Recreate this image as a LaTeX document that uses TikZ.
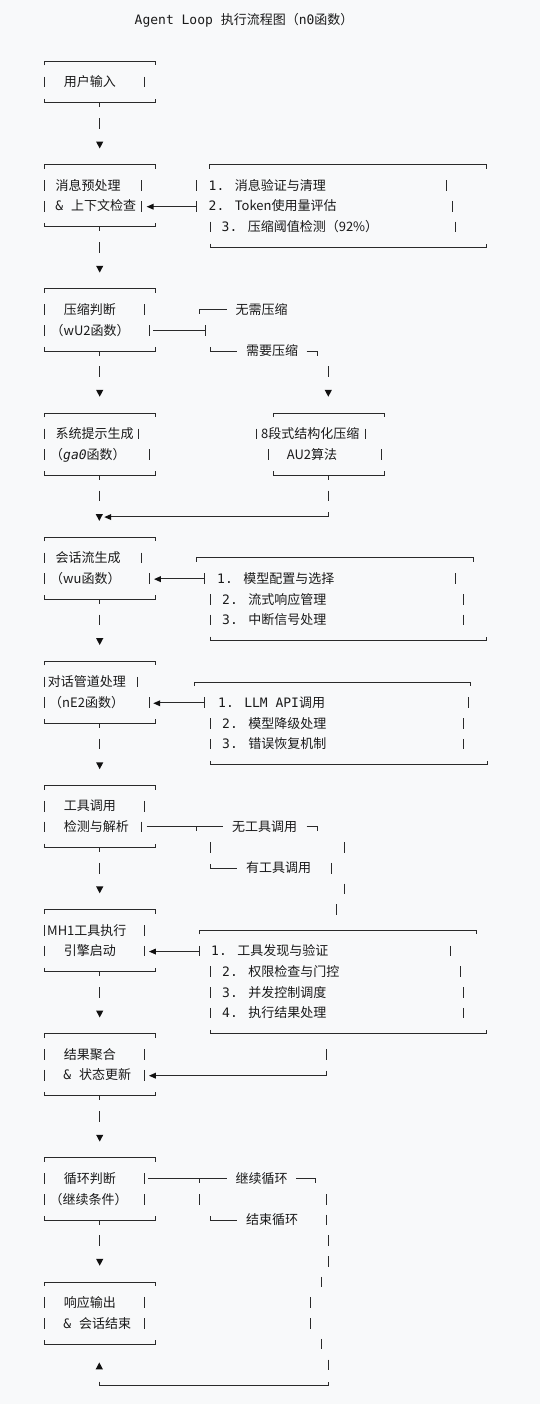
\documentclass[tikz,border=0pt]{standalone}
\usepackage{fontspec}
\newfontfamily\cjk{Noto Sans CJK SC}
\newfontfamily\mono{DejaVu Sans Mono}
\definecolor{bg}{HTML}{F8F9FA}
\definecolor{lc}{HTML}{2A2A2A}
\definecolor{tc}{HTML}{1A1A1A}
\definecolor{ac}{HTML}{111111}
\newcommand\fs{\fontsize{13}{15}\selectfont}
\newcommand\mn[1]{{\mono #1}}
\tikzset{
  ln/.style={draw=lc, line width=0.95pt},
  tx/.style={anchor=base west, inner sep=0pt, text=tc, font=\fs\cjk},
}
% helpers (row-based, y grows downward)
\newcommand\vbar[2]{\draw[ln] (#1,{rowy(#2)-5.3}) -- (#1,{rowy(#2)+5.3});}
\newcommand\btop[3]{\draw[ln] (#1,{rowy(#3)+4}) -- (#1,{rowy(#3)}) -- (#2,{rowy(#3)}) -- (#2,{rowy(#3)+4});}
\newcommand\bbot[3]{\draw[ln] (#1,{rowy(#3)-4}) -- (#1,{rowy(#3)}) -- (#2,{rowy(#3)}) -- (#2,{rowy(#3)-4});}
\newcommand\tdown[2]{\draw[ln] (#1,{rowy(#2)}) -- (#1,{rowy(#2)+4.5});}
\newcommand\hl[3]{\draw[ln] (#1,{rowy(#3)}) -- (#2,{rowy(#3)});}
\newcommand\dtri[2]{\fill[ac] ({#1-3.6},{rowy(#2)-2.5}) -- ({#1+3.6},{rowy(#2)-2.5}) -- (#1,{rowy(#2)+4.3}) -- cycle;}
\newcommand\utri[2]{\fill[ac] ({#1-3.6},{rowy(#2)+4.4}) -- ({#1+3.6},{rowy(#2)+4.4}) -- (#1,{rowy(#2)-2.4}) -- cycle;}
\newcommand\ltri[2]{\fill[ac] (#1,{rowy(#2)+0.5}) -- ({#1+6.8},{rowy(#2)-2.5}) -- ({#1+6.8},{rowy(#2)+3.5}) -- cycle;}
\newcommand\txt[4]{\node[tx] (#1) at (#2,{rowy(#3)+4.7}) {#4};}
\newcommand\lbox[3]{\btop{44.3}{155}{#1}\vbar{44.3}{#1+1}\vbar{#2}{#1+1}\vbar{44.3}{#1+2}\vbar{#3}{#1+2}\bbot{44.3}{155}{#1+3}}
\newcommand\down[1]{\tdown{99.3}{#1}\vbar{99.3}{#1+1}\dtri{99.7}{#1+2}}
\begin{document}
\begin{tikzpicture}[x=1pt,y=-1pt, declare function={rowy(\k)=20+20.69*\k;}]
\fill[bg] (0,0) rectangle (540,1404);
\useasboundingbox (0,0) rectangle (540,1404);

% title
\txt{title}{134.5}{0}{\mn{Agent Loop }执行流程图（\mn{n0}函数）}

% box 1
\btop{44.3}{155}{2}
\vbar{44.3}{3}\vbar{144.3}{3}
\bbot{44.3}{155}{4}
\txt{b1}{63.6}{3}{用户输入}
\down{4}

% box 2
\lbox{7}{141.7}{141.7}
\txt{b2a}{55.3}{8}{消息预处理}
\txt{b2b}{55.2}{9}{\mn{\& }上下文检查}
\down{10}
% right box A
\btop{209.3}{486.7}{7}
\vbar{196.7}{8}\vbar{446.7}{8}
\vbar{196.7}{9}\vbar{452.3}{9}
\vbar{210}{10}\vbar{455}{10}
\bbot{210}{486.7}{11}
\hl{153.3}{196.7}{9}\ltri{146.7}{9}
\txt{a1}{208.5}{8}{\mn{1. }消息验证与清理}
\txt{a2}{208.5}{9}{\mn{2. }Token使用量评估}
\txt{a3}{221.5}{10}{\mn{3. }压缩阈值检测（92\%）}

% box 3
\lbox{13}{144.3}{149.3}
\txt{b3a}{63.6}{14}{压缩判断}
\txt{b3b}{50.5}{15}{（wU2函数）}
\down{16}
\draw[ln] (199.3,{rowy(14)+4}) -- (199.3,{rowy(14)}) -- (226.7,{rowy(14)});
\txt{s1}{235.3}{14}{无需压缩}
\hl{153.3}{205}{15}\vbar{205}{15}
\draw[ln] (210,{rowy(16)-4}) -- (210,{rowy(16)}) -- (237.3,{rowy(16)});
\txt{s2}{246}{16}{需要压缩}
\draw[ln] (306.7,{rowy(16)}) -- (317.7,{rowy(16)}) -- (317.7,{rowy(16)+4.5});
\vbar{328.3}{17}\dtri{328.3}{18}

% box 4
\lbox{19}{138.3}{149.3}
\txt{b4a}{55.3}{20}{系统提示生成}
\txt{b4b}{50}{21}{（\mn{\itshape ga0}函数）}
\tdown{99.3}{22}\vbar{99.3}{23}\dtri{99.3}{24}
% box B
\btop{273.3}{384}{19}
\vbar{256.7}{20}\vbar{365.7}{20}
\vbar{268.3}{21}\vbar{381}{21}
\bbot{273.3}{384}{22}\tdown{328.3}{22}\vbar{328.3}{23}
\draw[ln] (328.3,{rowy(24)-4.5}) -- (328.3,{rowy(24)}) -- (110,{rowy(24)});
\ltri{104.3}{24}
\txt{bb1}{261}{20}{8段式结构化压缩}
\txt{bb2}{286.6}{21}{AU2算法}

% box 5
\lbox{25}{141.7}{149.3}
\txt{b5a}{55.3}{26}{会话流生成}
\txt{b5b}{50}{27}{（wu函数）}
\down{28}
% box C
\btop{196.7}{473.3}{26}
\vbar{204}{27}\vbar{455}{27}
\vbar{210}{28}\vbar{463.3}{28}
\vbar{210}{29}\vbar{463.3}{29}
\bbot{210}{486.7}{30}
\hl{160.7}{204}{27}\ltri{154}{27}
\txt{c1}{217}{27}{\mn{1. }模型配置与选择}
\txt{c2}{222}{28}{\mn{2. }流式响应管理}
\txt{c3}{222}{29}{\mn{3. }中断信号处理}

% box 6
\lbox{31}{137.7}{149.3}
\txt{b6a}{47.6}{32}{对话管道处理}
\txt{b6b}{49}{33}{（nE2函数）}
\down{34}
% box D
\btop{194}{470.7}{32}
\vbar{204}{33}\vbar{468.3}{33}
\vbar{210}{34}\vbar{463.3}{34}
\vbar{210}{35}\vbar{463.3}{35}
\bbot{210}{487.3}{36}
\hl{160}{204}{33}\ltri{153.3}{33}
\txt{d1}{218}{33}{\mn{1. LLM API}调用}
\txt{d2}{222}{34}{\mn{2. }模型降级处理}
\txt{d3}{222}{35}{\mn{3. }错误恢复机制}

% box 7
\lbox{37}{144.3}{141.7}
\txt{b7a}{63.6}{38}{工具调用}
\txt{b7b}{63.6}{39}{检测与解析}
\down{40}
\hl{146.7}{222.7}{39}\tdown{196.7}{39}
\txt{s3}{232}{39}{无工具调用}
\draw[ln] (306.7,{rowy(39)}) -- (317.7,{rowy(39)}) -- (317.7,{rowy(39)+4.5});
\vbar{210}{40}\vbar{344.3}{40}
\draw[ln] (210,{rowy(41)-4}) -- (210,{rowy(41)}) -- (237.3,{rowy(41)});
\txt{s4}{246}{41}{有工具调用}
\vbar{331}{41}\vbar{344.3}{42}\vbar{336.7}{43}

% box 8
\lbox{43}{144.3}{144.3}
\txt{b8a}{47}{44}{MH1工具执行}
\txt{b8b}{63.6}{45}{引擎启动}
\down{46}
% box E
\btop{199.3}{476.7}{44}
\vbar{199.3}{45}\vbar{450}{45}
\vbar{210}{46}\vbar{460}{46}
\vbar{210}{47}\vbar{463.3}{47}
\vbar{210}{48}\vbar{463.3}{48}
\bbot{210}{486.7}{49}
\hl{155.7}{199.3}{45}\ltri{149}{45}
\txt{e1}{211}{45}{\mn{1. }工具发现与验证}
\txt{e2}{222}{46}{\mn{2. }权限检查与门控}
\txt{e3}{222}{47}{\mn{3. }并发控制调度}
\txt{e4}{222}{48}{\mn{4. }执行结果处理}

% box 9
\lbox{49}{144.3}{144.3}
\txt{b9a}{63.6}{50}{结果聚合}
\txt{b9b}{63.2}{51}{\mn{\& }状态更新}
\vbar{326}{50}
\draw[ln] (326,{rowy(51)-4.5}) -- (326,{rowy(51)}) -- (155.7,{rowy(51)});
\ltri{149}{51}
\down{52}

% box 10
\lbox{55}{144.3}{144.3}
\txt{b10a}{63.6}{56}{循环判断}
\txt{b10b}{49.5}{57}{（继续条件）}
\hl{148.3}{226.7}{56}\tdown{199.3}{56}
\txt{s5}{235.3}{56}{继续循环}
\draw[ln] (296,{rowy(56)}) -- (315,{rowy(56)}) -- (315,{rowy(56)+4.5});
\vbar{199.3}{57}\vbar{326}{57}
\draw[ln] (210,{rowy(58)-4}) -- (210,{rowy(58)}) -- (237.3,{rowy(58)});
\txt{s6}{246}{58}{结束循环}
\vbar{326}{58}
\down{58}
\vbar{328.3}{59}\vbar{328.3}{60}\vbar{321}{61}\vbar{310}{62}
\vbar{310}{63}\vbar{321}{64}\vbar{328.3}{65}

% box 11
\lbox{61}{144.3}{144.3}
\txt{b11a}{63.6}{62}{响应输出}
\txt{b11b}{63.2}{63}{\mn{\& }会话结束}
\utri{99.3}{65}
\draw[ln] (99.3,{rowy(66)-4}) -- (99.3,{rowy(66)}) -- (328.3,{rowy(66)}) -- (328.3,{rowy(66)-4});
\end{tikzpicture}
\end{document}
